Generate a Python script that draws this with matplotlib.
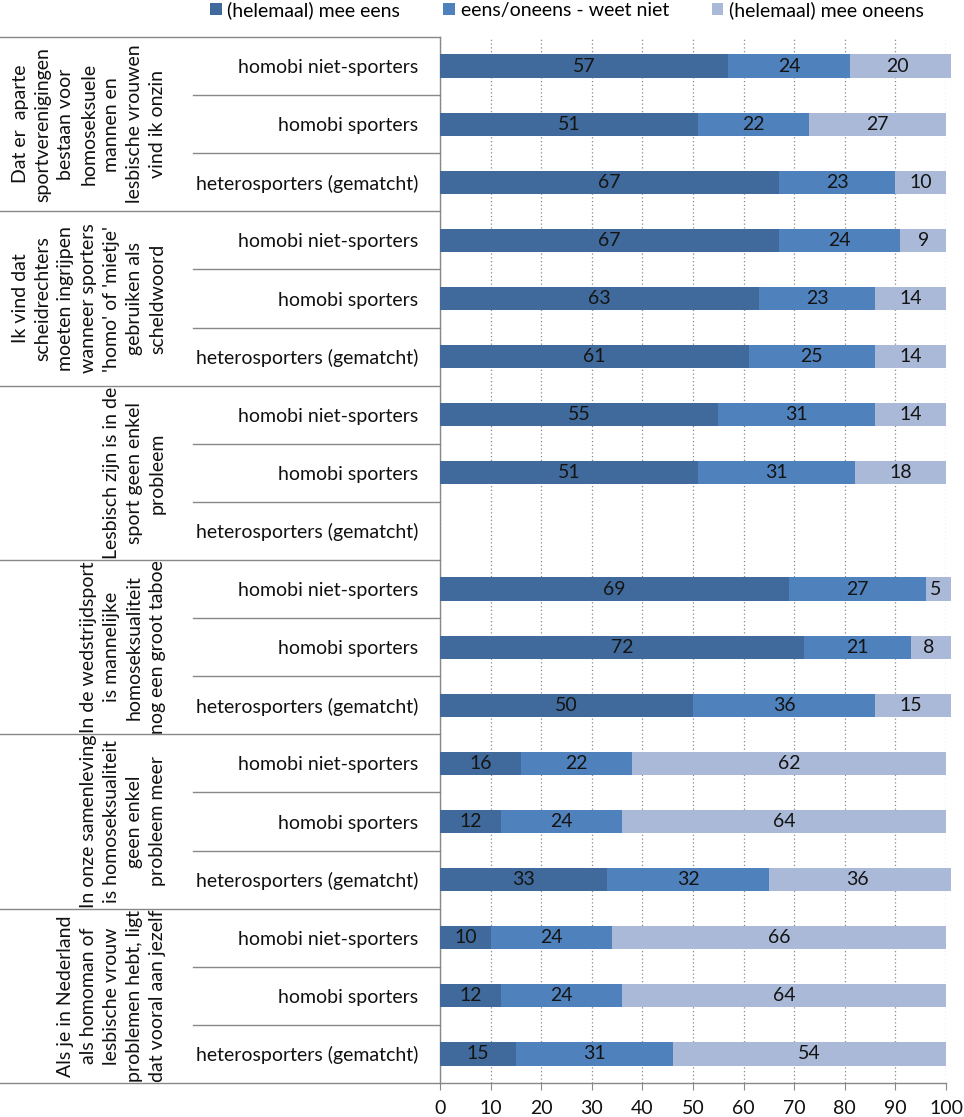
import matplotlib
matplotlib.use('Agg')
import matplotlib.pyplot as plt
import numpy as np
from matplotlib.transforms import blended_transform_factory
from matplotlib.lines import Line2D

plt.rcParams['font.family'] = ['Lato', 'DejaVu Sans']

groups = [
    "Dat er  aparte\nsportverenigingen\nbestaan voor\nhomoseksuele\nmannen en\nlesbische vrouwen\nvind ik onzin",
    "Ik vind dat\nscheidrechters\nmoeten ingrijpen\nwanneer sporters\n'homo' of 'mietje'\ngebruiken als\nscheldwoord",
    "Lesbisch zijn is in de\nsport geen enkel\nprobleem",
    "In de wedstrijdsport\nis mannelijke\nhomoseksualiteit\nnog een groot taboe",
    "In onze samenleving\nis homoseksualiteit\ngeen enkel\nprobleem meer",
    "Als je in Nederland\nals homoman of\nlesbische vrouw\nproblemen hebt, ligt\ndat vooral aan jezelf",
]
subgroups = ["homobi niet-sporters", "homobi sporters", "heterosporters (gematcht)"]
series_names = ["(helemaal) mee eens", "eens/oneens - weet niet", "(helemaal) mee oneens"]

eens = [57, 51, 67, 67, 63, 61, 55, 51, None, 69, 72, 50, 16, 12, 33, 10, 12, 15]
neutraal = [24, 22, 23, 24, 23, 25, 31, 31, None, 27, 21, 36, 22, 24, 32, 24, 24, 31]
oneens = [20, 27, 10, 9, 14, 14, 14, 18, None, 5, 8, 15, 62, 64, 36, 66, 64, 54]

colors = ['#406A9B', '#4F81BD', '#A9B9D7']
xticks = [0, 10, 20, 30, 40, 50, 60, 70, 80, 90, 100]

W, H = 964, 1117
fig = plt.figure(figsize=(W / 100, H / 100), dpi=100)
ax = fig.add_axes([440 / W, 34 / H, 506 / W, 1046 / H])

n = len(eens)
ypos = np.arange(n)
left = np.zeros(n)
handles = []
for vals, col, name in zip([eens, neutraal, oneens], colors, series_names):
    v = np.array([0 if x is None else x for x in vals], float)
    bars = ax.barh(ypos, v, left=left, height=0.4, color=col, label=name,
                   zorder=3, clip_on=False)
    labels = ['' if x is None else str(x) for x in vals]
    ax.bar_label(bars, labels=labels, label_type='center', fontsize=14,
                 color='#141414')
    handles.append(bars)
    left = left + v

ax.set_xlim(0, 100)
ax.set_ylim(n - 0.5, -0.5)
ax.set_xticks(xticks)
ax.xaxis.grid(True, linestyle=(0, (1, 2)), color='#8a8a8a', linewidth=0.9)
ax.set_axisbelow(True)
ax.tick_params(axis='x', direction='out', length=5, color='#888888',
               labelsize=14, pad=7, labelcolor='#111111')
ax.set_yticks(ypos)
ax.set_yticklabels(subgroups * len(groups))
ax.tick_params(axis='y', length=0, labelsize=14, pad=15.5, labelcolor='#111111')
for s in ['top', 'right']:
    ax.spines[s].set_visible(False)
for s in ['left', 'bottom']:
    ax.spines[s].set_color('#888888')
    ax.spines[s].set_linewidth(1.0)

trans = blended_transform_factory(fig.transFigure, ax.transData)
for r in range(n + 1):
    yb = r - 0.5
    if r % 3 == 0:
        x0 = 0
    else:
        x0 = 193 / W
    ax.add_line(Line2D([x0, 440 / W], [yb, yb], transform=trans,
                       color='#888888', lw=1.0, clip_on=False))

for g, txt in enumerate(groups):
    ax.text(166 / W, 3 * g + 1, txt, transform=trans, rotation=90,
            ha='right', va='center', multialignment='center', fontsize=14,
            linespacing=1.42, color='#111111')

fig.legend(handles=handles, loc='center', bbox_to_anchor=(567 / W, 1 - 10 / H),
           ncol=3, frameon=False, fontsize=14, handlelength=0.6,
           handleheight=0.6, handletextpad=0.3, columnspacing=2.2)

fig.savefig('out.png', dpi=100)
